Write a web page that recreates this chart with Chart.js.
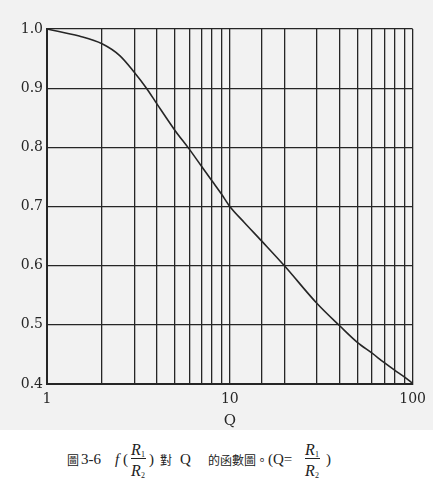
<!DOCTYPE html>
<html>
<head>
<meta charset="utf-8">
<script src="https://cdn.jsdelivr.net/npm/chart.js@4.4.1/dist/chart.umd.min.js"></script>
<style>
  html, body { margin: 0; padding: 0; background: #ffffff; }
  #wrap { position: relative; width: 433px; height: 430px; background: #f2f2f2; }
  #caption {
    position: absolute; left: 0; top: 430px; width: 433px; height: 64px;
    background: #ffffff; color: #222;
  }
  .cap { position: absolute; top: 0; line-height: 1; white-space: nowrap; }
  .cjk { font-family: "Noto Sans CJK TC", "Noto Sans CJK SC", sans-serif; font-size: 12px; }
  .lat { font-family: "Liberation Serif", "DejaVu Serif", serif; font-size: 15px; }
  .it { font-style: italic; }
  .frac { position: absolute; top: 0; width: 16px; text-align: center; line-height: 1;
          font-family: "Liberation Serif", serif; font-style: italic; font-size: 16px; }
  .frac .num { position: absolute; left: 0; top: 12px; width: 16px; }
  .frac .bar { position: absolute; left: 1px; top: 28px; width: 15px; height: 1px; background: #222; }
  .frac .den { position: absolute; left: 0; top: 33px; width: 16px; }
  sub { font-size: 8px; vertical-align: -2px; font-style: normal; }
</style>
</head>
<body>
<div id="wrap"><canvas id="chart" width="433" height="430"></canvas></div>
<div id="caption">
  <span class="cap cjk" style="left:67px; top:24px;">圖</span>
  <span class="cap lat" style="left:81px; top:22px;">3-6</span>
  <span class="cap lat it" style="left:115px; top:22px;">f</span>
  <span class="cap lat" style="left:123px; top:22px;">(</span>
  <div class="frac" style="left:130px;"><span class="num">R<sub>1</sub></span><span class="bar"></span><span class="den">R<sub>2</sub></span></div>
  <span class="cap lat" style="left:149px; top:22px;">)</span>
  <span class="cap cjk" style="left:160px; top:24px;">對</span>
  <span class="cap lat" style="left:180px; top:22px;">Q</span>
  <span class="cap cjk" style="left:208px; top:24px;">的函數圖</span>
  <span class="cap cjk" style="left:256px; top:24px;">。</span>
  <span class="cap lat" style="left:268px; top:22px;">(Q=</span>
  <div class="frac" style="left:304px;"><span class="num">R<sub>1</sub></span><span class="bar"></span><span class="den">R<sub>2</sub></span></div>
  <span class="cap lat" style="left:326px; top:22px;">)</span>
</div>
<script>
// values (against the grid lines)
const qValues = [1, 1.5, 2, 2.5, 3, 3.5, 4, 5, 6, 7, 8, 9, 10, 12, 15, 20, 30, 40, 50, 60, 70, 80, 90, 100];
const fValues = [1.0, 0.988, 0.975, 0.955, 0.927, 0.9, 0.873, 0.829, 0.797, 0.768, 0.743, 0.721, 0.7,
                 0.673, 0.641, 0.599, 0.536, 0.498, 0.47, 0.452, 0.436, 0.423, 0.412, 0.401];
const xTickLabels = [1, 10, 100];
const yTickLabels = [0.4, 0.5, 0.6, 0.7, 0.8, 0.9, 1.0];

const points = qValues.map((q, i) => ({ x: q, y: fValues[i] }));
const ink = '#262626';
const tickFont = { family: 'DejaVu Serif', size: 14 };

new Chart(document.getElementById('chart').getContext('2d'), {
  type: 'line',
  data: {
    datasets: [{
      data: points,
      borderColor: ink,
      borderWidth: 1.6,
      pointRadius: 0,
      fill: false,
      cubicInterpolationMode: 'monotone'
    }]
  },
  options: {
    animation: false,
    responsive: false,
    layout: { padding: { top: 29, right: 20, left: 0, bottom: 0 } },
    plugins: { legend: { display: false }, tooltip: { enabled: false } },
    scales: {
      x: {
        type: 'logarithmic',
        min: 1,
        max: 100,
        afterFit: (scale) => { scale.height = 46; },
        border: { color: ink, width: 2 },
        grid: { color: ink, lineWidth: 1.3, drawTicks: false },
        ticks: {
          autoSkip: false,
          maxRotation: 0,
          padding: 7,
          color: ink,
          font: tickFont,
          callback: (v) => xTickLabels.includes(v) ? String(v) : ''
        },
        title: {
          display: true,
          text: 'Q',
          color: ink,
          font: { family: 'DejaVu Serif', size: 15 },
          padding: { top: 0, bottom: 0 }
        }
      },
      y: {
        min: 0.4,
        max: 1.0,
        afterFit: (scale) => { scale.width = 47; },
        afterBuildTicks: (scale) => { scale.ticks = yTickLabels.map(v => ({ value: v })); },
        border: { color: ink, width: 2 },
        grid: { color: ink, lineWidth: 1.2, drawTicks: false },
        ticks: {
          padding: 4,
          color: ink,
          font: tickFont,
          callback: (v) => Number(v).toFixed(1)
        }
      }
    }
  }
});
</script>
</body>
</html>
